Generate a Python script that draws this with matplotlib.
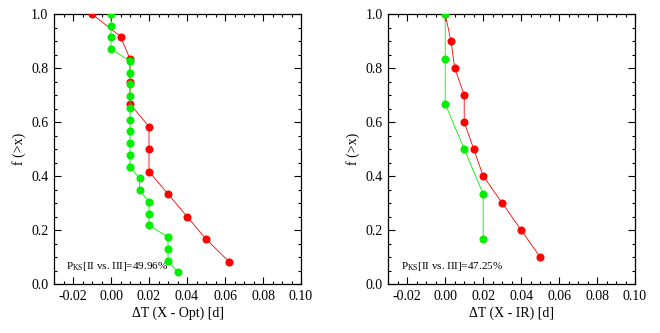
import matplotlib
matplotlib.use("Agg")
import matplotlib.pyplot as plt
from matplotlib.ticker import MultipleLocator, FormatStrFormatter

plt.rcParams['font.family'] = ['Liberation Serif', 'DejaVu Serif']
plt.rcParams['mathtext.fontset'] = 'custom'
plt.rcParams['mathtext.rm'] = 'Liberation Serif'

# Left panel: X - Opt
opt_red_x = [-0.01, 0.005, 0.01, 0.01, 0.01, 0.02, 0.02, 0.02, 0.03, 0.04, 0.05, 0.062]
opt_green_x = [0.0, 0.0, 0.0, 0.0,
               0.01, 0.01, 0.01, 0.01, 0.01, 0.01, 0.01, 0.01, 0.01, 0.01,
               0.015, 0.015, 0.02, 0.02, 0.02, 0.03, 0.03, 0.03, 0.035]
# Right panel: X - IR
ir_red_x = [0.0, 0.003, 0.005, 0.01, 0.01, 0.015, 0.02, 0.03, 0.04, 0.05]
ir_green_x = [0.0, 0.0, 0.0, 0.01, 0.02, 0.02]

opt_label = 'ΔT (X - Opt) [d]'
ir_label = 'ΔT (X - IR) [d]'
opt_pks = '49.96%'
ir_pks = '47.25%'

def cum(xs):
    n = len(xs)
    return [(n - i) / n for i in range(n)]

RED = '#ff0000'
GREEN = '#00f000'

fig = plt.figure(figsize=(6.6, 3.33), dpi=100)
axL = fig.add_axes([54/660, 49/333, 247/660, 270/333])
axR = fig.add_axes([388.3/660, 49/333, 246.7/660, 270/333])

for ax, rx, gx, lab, pks in [(axL, opt_red_x, opt_green_x, opt_label, opt_pks),
                             (axR, ir_red_x, ir_green_x, ir_label, ir_pks)]:
    ax.plot(rx, cum(rx), '-', color=RED, lw=0.6, zorder=2)
    ax.plot(rx, cum(rx), 'o', color=RED, ms=5.8, mec='none', zorder=3)
    ax.plot(gx, cum(gx), '-', color=GREEN, lw=0.6, zorder=4)
    ax.plot(gx, cum(gx), 'o', color=GREEN, ms=5.8, mec='none', zorder=5)
    ax.set_xlim(-0.03, 0.10)
    ax.set_ylim(0.0, 1.0)
    ax.xaxis.set_major_locator(MultipleLocator(0.02))
    ax.xaxis.set_minor_locator(MultipleLocator(0.005))
    ax.yaxis.set_major_locator(MultipleLocator(0.2))
    ax.yaxis.set_minor_locator(MultipleLocator(0.05))
    ax.xaxis.set_major_formatter(FormatStrFormatter('%.2f'))
    ax.yaxis.set_major_formatter(FormatStrFormatter('%.1f'))
    ax.tick_params(which='both', direction='in', top=True, right=True,
                   labelsize=10, width=0.8, colors='black', pad=4)
    ax.tick_params(which='major', length=5)
    ax.tick_params(which='minor', length=2.5)
    for s in ax.spines.values():
        s.set_linewidth(0.9)
    ax.set_xlabel(lab, fontsize=10, labelpad=3)
    ax.set_ylabel('f (>x)', fontsize=10, labelpad=4)
    ax.text(0.05, 0.04, r'P$_{\rm KS}$[II vs. III]=' + pks,
            transform=ax.transAxes, fontsize=8, ha='left', va='bottom')

fig.savefig('out.png', dpi=100)
